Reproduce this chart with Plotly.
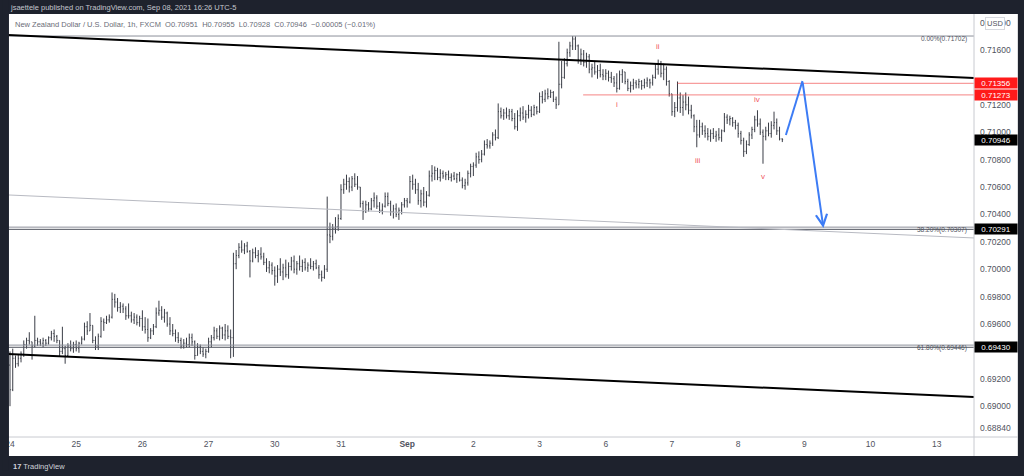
import plotly.graph_objects as go

# ---------------- data (NZDUSD 1h, FXCM) ----------------
day_labels = ["24", "25", "26", "27", "30", "31", "<b>Sep</b>", "2", "3", "6", "7", "8", "9", "10", "13"]
bars_per_day = 24

first_open = 0.6930

high = [
    # Aug 24
    .6940, .6942, .6937, .6938, .6940, .6948, .6950, .6954, .6947, .6966, .6950, .6949,
    .6950, .6949, .6951, .6955, .6956, .6952, .6948, .6958, .6944, .6946, .6948, .6947,
    # Aug 25
    .6948, .6947, .6951, .6961, .6962, .6968, .6959, .6951, .6953, .6965, .6964, .6966,
    .6967, .6983, .6982, .6979, .6976, .6975, .6973, .6975, .6969, .6968, .6967, .6966,
    # Aug 26
    .6970, .6965, .6964, .6957, .6960, .6972, .6977, .6973, .6971, .6969, .6965, .6960,
    .6956, .6954, .6950, .6949, .6950, .6953, .6953, .6948, .6946, .6945, .6943, .6942,
    # Aug 27
    .6950, .6952, .6958, .6957, .6959, .6958, .6960, .6959, .6956, .7012, .7014, .7019,
    .7021, .7019, .7020, .7014, .7015, .7016, .7014, .7016, .7012, .7008, .7006, .7005,
    # Aug 30
    .7002, .7003, .7008, .7004, .7007, .7005, .7009, .7010, .7006, .7010, .7007, .7008,
    .7005, .7008, .7006, .7007, .7003, .6999, .7003, .7053, .7034, .7033, .7038, .7040,
    # Aug 31
    .7062, .7066, .7069, .7067, .7068, .7070, .7068, .7060, .7050, .7050, .7049, .7052,
    .7056, .7054, .7049, .7048, .7056, .7056, .7050, .7047, .7048, .7045, .7049, .7052,
    # Sep 1
    .7052, .7068, .7069, .7066, .7063, .7058, .7060, .7057, .7072, .7076, .7075, .7074,
    .7073, .7072, .7071, .7072, .7070, .7071, .7070, .7071, .7067, .7066, .7072, .7077,
    # Sep 2
    .7078, .7085, .7086, .7087, .7094, .7095, .7094, .7100, .7102, .7121, .7118, .7117,
    .7118, .7117, .7117, .7114, .7116, .7118, .7119, .7116, .7120, .7119, .7120, .7119,
    # Sep 3
    .7129, .7130, .7131, .7132, .7131, .7130, .7126, .7166, .7152, .7154, .7161, .7166,
    .71702, .7170, .7164, .7161, .7160, .7158, .7157, .7150, .7152, .7149, .7150, .7146,
    # Sep 6
    .7146, .7145, .7144, .7141, .7143, .7145, .7146, .7144, .7139, .7137, .7139, .7138,
    .7139, .7138, .7139, .7140, .7139, .7142, .7150, .7153, .7152, .7150, .7148, .7138,
    # Sep 7
    .7128, .7122, .7137, .7129, .7127, .7129, .7126, .7120, .7113, .7109, .7109, .7107,
    .7105, .7103, .7102, .7103, .7101, .7103, .7102, .7114, .7113, .7112, .7111, .7109,
    # Sep 8
    .7107, .7101, .7096, .7094, .7100, .7104, .7112, .7116, .7110, .7102, .7104, .7107,
    .7108, .7115, .7110, .7104, .70955,
]

low = [
    # Aug 24
    .6900, .6911, .6928, .6929, .6932, .6936, .6942, .6945, .6934, .6943, .6944, .6944,
    .6943, .6944, .6945, .6948, .6947, .6946, .6936, .6938, .6931, .6936, .6940, .6939,
    # Aug 25
    .6940, .6939, .6945, .6948, .6952, .6955, .6946, .6941, .6941, .6950, .6955, .6960,
    .6961, .6964, .6972, .6969, .6968, .6968, .6963, .6964, .6961, .6960, .6959, .6958,
    # Aug 26
    .6955, .6953, .6947, .6949, .6952, .6957, .6966, .6963, .6961, .6958, .6952, .6951,
    .6947, .6946, .6942, .6942, .6943, .6943, .6944, .6934, .6937, .6938, .6936, .6935,
    # Aug 27
    .6939, .6943, .6948, .6949, .6948, .6949, .6948, .6949, .6935, .6936, .7000, .7008,
    .7012, .7011, .7012, .6994, .7005, .7008, .7005, .7007, .7003, .6998, .6997, .6996,
    # Aug 30
    .6988, .6990, .6995, .6992, .6994, .6993, .6999, .6997, .6996, .6999, .6998, .6999,
    .6998, .7000, .6999, .7000, .6993, .6991, .6993, .6998, .7019, .7021, .7026, .7028,
    # Aug 31
    .7036, .7055, .7058, .7056, .7057, .7060, .7058, .7045, .7036, .7041, .7042, .7043,
    .7045, .7044, .7041, .7040, .7045, .7046, .7039, .7037, .7038, .7036, .7040, .7045,
    # Sep 1
    .7045, .7048, .7058, .7055, .7047, .7045, .7046, .7045, .7053, .7064, .7065, .7065,
    .7064, .7066, .7065, .7065, .7064, .7065, .7063, .7064, .7059, .7058, .7061, .7067,
    # Sep 2
    .7068, .7074, .7077, .7078, .7083, .7088, .7088, .7090, .7094, .7095, .7110, .7109,
    .7110, .7109, .7108, .7102, .7101, .7108, .7109, .7107, .7110, .7111, .7112, .7113,
    # Sep 3
    .7114, .7121, .7122, .7124, .7125, .7122, .7117, .7120, .7132, .7139, .7148, .7155,
    .7160, .7160, .7150, .7149, .7148, .7147, .7143, .7140, .7142, .7139, .7140, .7138,
    # Sep 6
    .7138, .7137, .7136, .7133, .7129, .7131, .7136, .7135, .7130, .7129, .7131, .7132,
    .7132, .7131, .7132, .7133, .7132, .7134, .7139, .7142, .7140, .7138, .7134, .7126,
    # Sep 7
    .7112, .7111, .7115, .7114, .7112, .7116, .7113, .7110, .7100, .7089, .7096, .7098,
    .7096, .7094, .7093, .7095, .7093, .7094, .7093, .7100, .7106, .7105, .7104, .7102,
    # Sep 8
    .7096, .7091, .7082, .7084, .7090, .7095, .7100, .7104, .7098, .7077, .7094, .7097,
    .7096, .7102, .7098, .7094, .70928,
]

close = [
    # Aug 24
    .6912, .6935, .6931, .6935, .6938, .6945, .6948, .6947, .6944, .6948, .6947, .6946,
    .6948, .6946, .6950, .6953, .6951, .6948, .6940, .6942, .6937, .6944, .6942, .6945,
    # Aug 25
    .6942, .6946, .6949, .6958, .6955, .6959, .6948, .6944, .6951, .6962, .6961, .6963,
    .6965, .6978, .6976, .6972, .6973, .6971, .6966, .6966, .6963, .6965, .6961, .6964,
    # Aug 26
    .6958, .6956, .6950, .6955, .6958, .6968, .6970, .6965, .6968, .6960, .6955, .6953,
    .6950, .6948, .6944, .6946, .6945, .6950, .6947, .6937, .6943, .6940, .6938, .6940,
    # Aug 27
    .6947, .6950, .6955, .6951, .6957, .6952, .6955, .6951, .6950, .7004, .7010, .7016,
    .7014, .7017, .7013, .7006, .7012, .7010, .7011, .7009, .7005, .7001, .7003, .6999,
    # Aug 30
    .6995, .7000, .6998, .7001, .6996, .7002, .7006, .7000, .7004, .7002, .7005, .7001,
    .7003, .7002, .7004, .7001, .6996, .6994, .7000, .7025, .7024, .7030, .7031, .7037,
    # Aug 31
    .7058, .7062, .7064, .7060, .7066, .7062, .7060, .7048, .7042, .7047, .7044, .7050,
    .7052, .7046, .7043, .7046, .7053, .7048, .7042, .7044, .7040, .7043, .7047, .7050,
    # Sep 1
    .7049, .7064, .7062, .7058, .7050, .7055, .7049, .7054, .7068, .7070, .7072, .7067,
    .7070, .7068, .7069, .7067, .7068, .7066, .7069, .7065, .7061, .7063, .7070, .7075,
    # Sep 2
    .7076, .7082, .7080, .7084, .7091, .7090, .7092, .7098, .7096, .7115, .7112, .7114,
    .7112, .7115, .7110, .7104, .7112, .7114, .7111, .7113, .7116, .7113, .7118, .7115,
    # Sep 3
    .7126, .7124, .7128, .7126, .7129, .7124, .7120, .7135, .7140, .7150, .7158, .7163,
    .7168, .7163, .7153, .7157, .7151, .7155, .7146, .7147, .7144, .7145, .7142, .7141,
    # Sep 6
    .7143, .7140, .7139, .7136, .7132, .7142, .7144, .7137, .7132, .7134, .7136, .7135,
    .7137, .7134, .7136, .7138, .7136, .7140, .7146, .7150, .7143, .7146, .7137, .7128,
    # Sep 7
    .7115, .7118, .7125, .7118, .7122, .7120, .7116, .7112, .7104, .7098, .7104, .7101,
    .7099, .7097, .7099, .7097, .7098, .7096, .7101, .7111, .7109, .7110, .7107, .7105,
    # Sep 8
    .7099, .7094, .7086, .7091, .7098, .7102, .7109, .7106, .7100, .7097, .7101, .7099,
    .7105, .7107, .7101, .70951, .70946,
]

# FX trades continuously: each hour opens where the previous one closed
opn = [first_open] + close[:-1]

# drawings (bar index, price)
upper_channel_x = [-0.72, 349.5]
upper_channel_y = [0.71709, 0.71396]
lower_channel_x = [-0.72, 349.5]
lower_channel_y = [0.69381, 0.69067]
mid_line_x = [-0.72, 349.5]
mid_line_y = [0.70542, 0.70228]

fib_levels = [0.71702, 0.70307, 0.69446]
fib_names = ["0.00%", "38.20%", "61.80%"]
ray_levels = [0.70291, 0.69430]
red_levels = [0.71356, 0.71273]
red_start = [242, 207.8]

wave_text = ["i", "ii", "iii", "iv", "v"]
wave_x = [220, 235, 249.5, 271, 273]
wave_y = [0.71205, 0.71622, 0.70797, 0.71242, 0.70680]

proj_x = [281.3, 287.3, 294.9]
proj_y = [0.70979, 0.71374, 0.70301]

price_ticks = [0.6884, 0.690, 0.692, 0.696, 0.698, 0.700, 0.702, 0.704,
               0.706, 0.708, 0.710, 0.712, 0.716, 0.718]

# ---------------- figure ----------------
DARK = "#1e222d"
BAR = "#3a3d46"
FONT = "Liberation Sans"
X0, X1 = -0.72, 349.5
Y0, Y1 = 0.687752, 0.718628

n = len(close)
idx = list(range(n))

fig = go.Figure()

fig.add_trace(go.Ohlc(
    x=idx, open=opn, high=high, low=low, close=close,
    increasing=dict(line=dict(color=BAR, width=1)),
    decreasing=dict(line=dict(color=BAR, width=1)),
    tickwidth=0.3, hoverinfo="skip", showlegend=False,
))

def line(xs, ys, color, width):
    fig.add_trace(go.Scatter(x=xs, y=ys, mode="lines", line=dict(color=color, width=width),
                             hoverinfo="skip", showlegend=False))

shapes = [
    # white chart panel incl. axes
    dict(type="rect", xref="paper", yref="paper", x0=0, x1=1.0454, y0=-0.0449, y1=1,
         fillcolor="white", line_width=0, layer="below"),
    # axis borders
    dict(type="line", xref="paper", yref="paper", x0=1, x1=1, y0=-0.0449, y1=1,
         line=dict(color="#c8cad0", width=1)),
    dict(type="line", xref="paper", yref="paper", x0=0, x1=1.0454, y0=0, y1=0,
         line=dict(color="#c8cad0", width=1)),
    # dark left strip covering clipped first date label
    dict(type="rect", xref="paper", yref="paper", x0=-0.006, x1=0.001, y0=-0.08, y1=1.05,
         fillcolor=DARK, line_width=0, layer="above"),
]
fig.update_layout(shapes=shapes)

# fib levels and rays
for lv in fib_levels:
    line([X0, X1], [lv, lv], "#8c8f99", 1)
for lv in ray_levels:
    line([X0, X1], [lv, lv], "#50535e", 1)
# thin mid trendline
line(mid_line_x, mid_line_y, "#b8bac2", 1)
# channel lines
line(upper_channel_x, upper_channel_y, "#000000", 2)
line(lower_channel_x, lower_channel_y, "#000000", 2)
# red horizontal rays
for lv, s in zip(red_levels, red_start):
    line([s, X1], [lv, lv], "rgba(240,60,60,0.5)", 1.2)
# projection path
line(proj_x[:2], proj_y[:2], "#3d7cf5", 2)

ann = []
ann.append(dict(x=proj_x[2], y=proj_y[2], ax=proj_x[1], ay=proj_y[1], xref="x", yref="y",
                axref="x", ayref="y", showarrow=True, arrowhead=5, arrowsize=1.1,
                arrowwidth=2, arrowcolor="#3d7cf5", text="", standoff=0))

for t, x, y in zip(wave_text, wave_x, wave_y):
    ann.append(dict(x=x, y=y, xref="x", yref="y", text=t, showarrow=False,
                    font=dict(family=FONT, size=8, color="#f0585f")))

for lv, nm in zip(fib_levels, fib_names):
    ann.append(dict(x=347.7, y=lv, xref="x", yref="y", text=f"{nm}({lv:.5f})",
                    showarrow=False, xanchor="right", yanchor="middle", yshift=-3,
                    font=dict(family=FONT, size=6.5, color="#50535e")))

def badge(val, bg):
    ann.append(dict(x=1, y=val, xref="paper", yref="y", text=f"{val:.5f}", showarrow=False,
                    xanchor="left", yanchor="middle", bgcolor=bg, width=42, height=10,
                    borderpad=0, align="center",
                    font=dict(family=FONT, size=8, color="white")))

badge(red_levels[0], "#ff1a1a")
badge(red_levels[1], "#ff1a1a")
badge(close[-1], "#000000")
badge(ray_levels[0], "#000000")
badge(ray_levels[1], "#000000")

ann.append(dict(x=1.0217, y=0.9775, xref="paper", yref="paper", text="USD", showarrow=False,
                xanchor="center", yanchor="middle", bgcolor="white", bordercolor="#d6d8de",
                borderwidth=1, borderpad=1, font=dict(family=FONT, size=7.5, color="#50535e")))

ann.append(dict(x=0, y=1.0165, xref="paper", yref="paper", xanchor="left", yanchor="middle",
                text="jsaettele published on TradingView.com, Sep 08, 2021 16:26 UTC-5",
                showarrow=False, font=dict(family=FONT, size=7.5, color="#c3c6ce")))
ann.append(dict(x=0.005, y=0.976, xref="paper", yref="paper", xanchor="left", yanchor="middle",
                text=("New Zealand Dollar / U.S. Dollar, 1h, FXCM  O0.70951  H0.70955  "
                      "L0.70928  C0.70946  \u22120.00005 (\u22120.01%)"),
                showarrow=False, font=dict(family=FONT, size=7.5, color="#6a6d78")))
ann.append(dict(x=0.003, y=-0.0686, xref="paper", yref="paper", xanchor="left", yanchor="middle",
                text="<b>17</b> TradingView", showarrow=False,
                font=dict(family=FONT, size=7.5, color="#d1d4dc")))

fig.update_layout(
    annotations=ann,
    width=1024, height=476,
    margin=dict(l=5, r=50, t=14, b=39),
    paper_bgcolor=DARK, plot_bgcolor="white",
    showlegend=False,
    xaxis=dict(range=[X0, X1], showgrid=False, zeroline=False, showline=False,
               rangeslider=dict(visible=False),
               tickvals=[bars_per_day * k for k in range(len(day_labels))],
               ticktext=day_labels, ticks="",
               tickfont=dict(family=FONT, size=8.5, color="#50535e")),
    yaxis=dict(range=[Y0, Y1], side="right", showgrid=False, zeroline=False, showline=False,
               tickvals=price_ticks, tickformat=".5f", ticks="",
               ticklabelstandoff=5,
               tickfont=dict(family=FONT, size=8.5, color="#50535e")),
)

fig.write_html(
    "out.html",
    config={"displayModeBar": False},
    post_script="document.body.style.margin='0';document.body.style.background='%s';" % DARK,
)
